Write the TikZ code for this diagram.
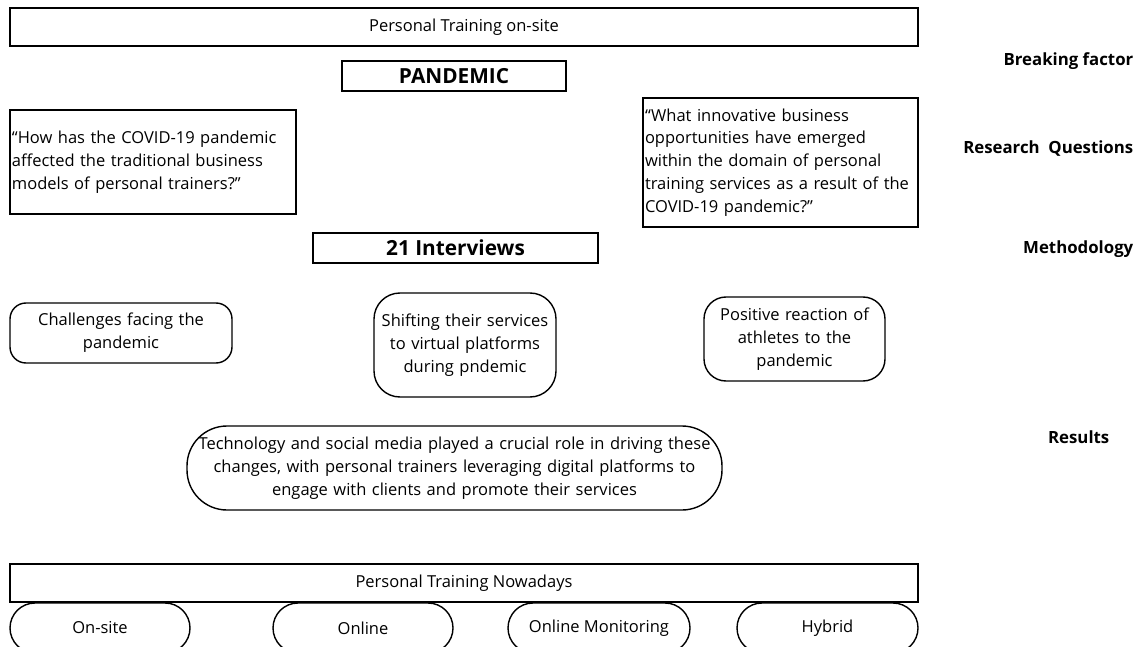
\documentclass[tikz,border=0pt]{standalone}
\usepackage{fontspec}
\setmainfont{Open Sans}
\begin{document}
\begin{tikzpicture}[x=1pt,y=-1pt,line width=1.4pt,
    every node/.style={font=\fontsize{16.5}{22.8}\selectfont},
    plainbox/.style={draw,rectangle,inner sep=2pt},
    headbox/.style={plainbox,font=\fontsize{20.8}{24}\selectfont\bfseries},
    questbox/.style={plainbox,align=left},
    roundbox/.style={draw,rounded corners=#1,align=center,inner sep=2pt},
    sidelabel/.style={anchor=east,inner sep=0pt,font=\fontsize{16.8}{22.5}\selectfont\bfseries}]
    \useasboundingbox (0,0) rectangle (1146,647);
    % top of the study
    \node[plainbox,minimum width=908pt,minimum height=38pt] (onsite) at (464,27) {Personal Training on-site};
    \node[headbox,minimum width=224pt,minimum height=30pt] (pandemic) at (454,76) {PANDEMIC};
    \node[questbox,text width=282pt,minimum height=104pt] (questA) at (153,162)
        {``How has the COVID-19 pandemic\\affected the traditional business\\models of personal trainers?''};
    \node[questbox,text width=271pt,minimum height=129pt] (questB) at (780.5,162.5)
        {``What innovative business\\opportunities have emerged\\within the domain of personal\\training services as a result of the\\COVID-19 pandemic?''};
    \node[headbox,minimum width=285pt,minimum height=30pt] (interviews) at (455.5,248) {21 Interviews};
    % results
    \node[roundbox=16pt,text width=218pt,minimum height=60pt] (challenges) at (121,333) {Challenges facing the\\pandemic};
    \node[roundbox=26pt,text width=178pt,minimum height=104pt] (shifting) at (465,345) {Shifting their services\\to virtual platforms\\during pndemic};
    \node[roundbox=22pt,text width=177pt,minimum height=84pt] (positive) at (794.5,339) {Positive reaction of\\athletes to the\\pandemic};
    \node[roundbox=40pt,text width=531pt,minimum height=84pt] (technology) at (454.5,468)
        {Technology and social media played a crucial role in driving these\\changes, with personal trainers leveraging digital platforms to\\engage with clients and promote their services};
    % nowadays
    \node[plainbox,minimum width=908pt,minimum height=38pt] (nowadays) at (464,583) {Personal Training Nowadays};
    \node[roundbox=25pt,minimum width=180pt,minimum height=50pt] (ovalA) at (100,628) {On-site};
    \node[roundbox=25pt,minimum width=180pt,minimum height=50pt] (ovalB) at (363,628) {Online};
    \node[roundbox=25pt,minimum width=182pt,minimum height=50pt] (ovalC) at (599,628) {Online Monitoring};
    \node[roundbox=25pt,minimum width=181pt,minimum height=50pt] (ovalD) at (827.5,628) {Hybrid};
    % labels on the right
    \node[sidelabel] (lblBreak) at (1134,61) {Breaking factor};
    \node[sidelabel] (lblQuest) at (1134,149) {Research\ \ Questions};
    \node[sidelabel] (lblMethod) at (1134,249) {Methodology};
    \node[sidelabel] (lblResult) at (1110,437) {Results};
\end{tikzpicture}
\end{document}
